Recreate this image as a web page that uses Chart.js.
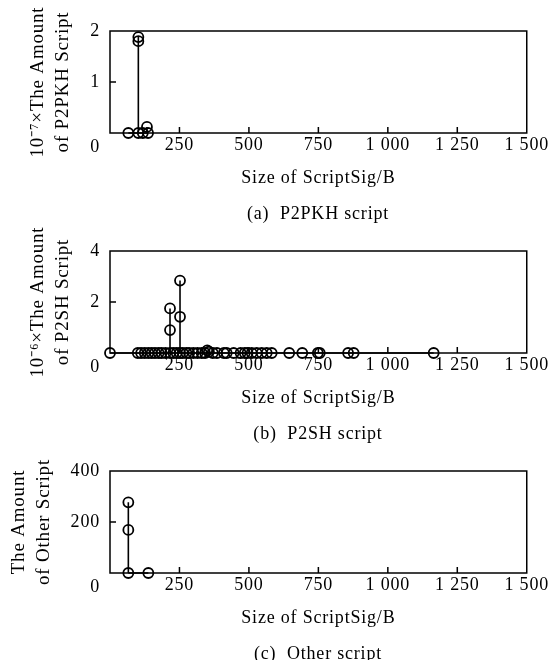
<!DOCTYPE html>
<html><head><meta charset="utf-8">
<script src="https://cdn.jsdelivr.net/npm/chart.js@4/dist/chart.umd.min.js"></script>
<style>
html,body{margin:0;padding:0;background:#fff;}
.panel{position:relative;width:550px;height:220px;}
.panel canvas{position:absolute;left:0;top:0;}
.cap{position:absolute;left:118px;width:400px;top:202px;height:22px;line-height:22px;text-align:center;
 font-family:'Liberation Serif','Times New Roman',serif;font-size:18px;color:#000;letter-spacing:0.8px;white-space:pre;}
</style></head><body>
<div class="panel"><canvas id="c1" width="550" height="220"></canvas><div class="cap">(a)  P2PKH script</div></div>
<div class="panel"><canvas id="c2" width="550" height="220"></canvas><div class="cap">(b)  P2SH script</div></div>
<div class="panel"><canvas id="c3" width="550" height="220"></canvas><div class="cap">(c)  Other script</div></div>
<script>
// ---- data ----
const xTickValues = [0, 250, 500, 750, 1000, 1250, 1500];
const xAxisTitle = 'Size of ScriptSig/B';

// (a) P2PKH, amount in units of 10^7
const p2pkhSize   = [66, 102, 102, 102, 118, 133, 137];
const p2pkhAmount = [0, 1.88, 1.80, 0, 0, 0.12, 0];

// (b) P2SH, amount in units of 10^6
const p2shSize   = [0, 100, 112, 125, 138, 150, 162, 175, 186, 200, 216, 216, 216, 228, 240, 252, 252, 252, 262, 275, 285, 300, 315, 330, 342, 350, 356, 370, 385, 410, 420, 445, 470, 485, 495, 510, 528, 546, 564, 582, 645, 692, 748, 755, 857, 877, 1165];
const p2shAmount = [0, 0, 0, 0, 0, 0, 0, 0, 0, 0, 1.75, 0.9, 0, 0, 0, 2.84, 1.42, 0, 0, 0, 0, 0, 0, 0, 0, 0.1, 0.05, 0, 0, 0, 0, 0, 0, 0, 0, 0, 0, 0, 0, 0, 0, 0, 0, 0, 0, 0, 0];

// (c) Other script, amount
const otherSize   = [66, 66, 66, 138];
const otherAmount = [277, 169, 0, 0];

const FONT = "'Liberation Serif','Times New Roman',serif";

function fmt(v){
  if (v === 0) return '';
  const s = String(v);
  return s.length > 3 ? s.slice(0, s.length-3) + ' ' + s.slice(-3) : s;
}

const framePlugin = {
  id: 'frame',
  beforeUpdate(chart){ chart.ctx.letterSpacing = '0.8px'; },
  beforeDraw(chart){ chart.ctx.letterSpacing = '0.8px'; },
  beforeDatasetsDraw(chart){
    const {ctx, chartArea: a, scales} = chart;
    ctx.save();
    ctx.strokeStyle = '#000';
    ctx.lineWidth = 1.5;
    ctx.strokeRect(a.left, a.top, a.right - a.left, a.bottom - a.top);
    ctx.beginPath();
    scales.x.ticks.forEach(t => {
      if (t.value <= scales.x.min || t.value >= scales.x.max) return;
      const px = scales.x.getPixelForValue(t.value);
      ctx.moveTo(px, a.bottom); ctx.lineTo(px, a.bottom - 6);
    });
    scales.y.ticks.forEach(t => {
      if (t.value <= scales.y.min || t.value >= scales.y.max) return;
      const py = scales.y.getPixelForValue(t.value);
      ctx.moveTo(a.left, py); ctx.lineTo(a.left + 6, py);
    });
    ctx.stroke();
    // shared origin label
    ctx.fillStyle = '#000';
    ctx.font = '18px ' + FONT;
    ctx.letterSpacing = '0.8px';
    ctx.textAlign = 'right';
    ctx.textBaseline = 'middle';
    ctx.fillText('0', a.left - 10, a.bottom + 14);
    ctx.restore();
  }
};

function makePanel(id, sizes, amounts, yMax, yStep, yTitle, yTitlePad){
  const pts = sizes.map((x, i) => ({x: x, y: amounts[i]}));
  const stems = [];
  sizes.forEach((x, i) => {
    if (amounts[i] > 0) { stems.push({x: x, y: 0}, {x: x, y: amounts[i]}, {x: x, y: null}); }
  });
  const base = [{x: Math.min(...sizes), y: 0}, {x: Math.max(...sizes), y: 0}];
  new Chart(document.getElementById(id), {
    type: 'scatter',
    data: { datasets: [
      { data: stems, showLine: true, spanGaps: false, borderColor: '#000', borderWidth: 1.6, pointRadius: 0, clip: false },
      { data: base, showLine: true, borderColor: '#000', borderWidth: 1.6, pointRadius: 0, clip: false },
      { data: pts, showLine: false, pointStyle: 'circle', pointRadius: 5, pointBorderWidth: 1.8,
        borderColor: '#000', backgroundColor: 'rgba(0,0,0,0)', pointBackgroundColor: 'rgba(0,0,0,0)', pointBorderColor: '#000', clip: false }
    ]},
    options: {
      responsive: false, animation: false, devicePixelRatio: 1,
      layout: { padding: { top: 31, right: 23, bottom: 27, left: 0 } },
      plugins: { legend: { display: false }, tooltip: { enabled: false } },
      scales: {
        x: {
          type: 'linear', min: 0, max: 1500,
          afterBuildTicks: s => { s.ticks = xTickValues.map(v => ({value: v})); },
          afterFit: s => { s.height = 60; },
          grid: { display: false, drawTicks: false },
          border: { display: false },
          ticks: { callback: v => fmt(v), color: '#000', padding: 1, maxRotation: 0, autoSkip: false,
                   font: { family: FONT, size: 18 } },
          title: { display: true, text: xAxisTitle, color: '#000', padding: { top: 0, bottom: 4 },
                   font: { family: FONT, size: 18, lineHeight: 1.2 } }
        },
        y: {
          min: 0, max: yMax,
          afterBuildTicks: s => { const t = []; for (let v = 0; v <= yMax; v += yStep) t.push({value: v}); s.ticks = t; },
          afterFit: s => { s.width = 110; },
          grid: { display: false, drawTicks: false },
          border: { display: false },
          ticks: { callback: v => (v === 0 ? '' : String(v)), color: '#000', padding: 10,
                   font: { family: FONT, size: 18 } },
          title: { display: true, text: yTitle, color: '#000', padding: { top: yTitlePad, bottom: 0 },
                   font: { family: FONT, size: 19, lineHeight: 25/19 } }
        }
      }
    },
    plugins: [framePlugin]
  });
}

makePanel('c1', p2pkhSize, p2pkhAmount, 2, 1, ['10\u207B\u2077\u00D7The Amount', 'of P2PKH Script'], 25.5);
makePanel('c2', p2shSize, p2shAmount, 4, 2, ['10\u207B\u2076\u00D7The Amount', 'of P2SH Script'], 25.5);
makePanel('c3', otherSize, otherAmount, 400, 200, ['The Amount', 'of Other Script'], 6.5);
</script>
</body></html>
